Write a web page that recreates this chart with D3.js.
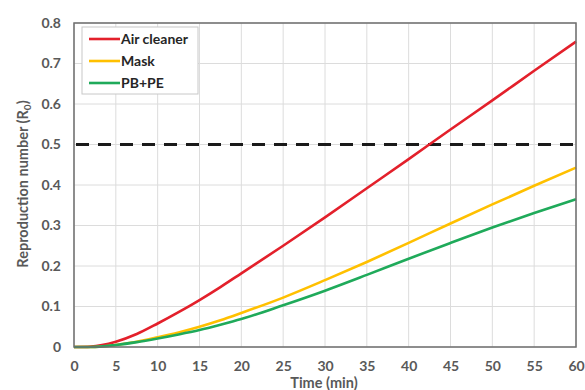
<!DOCTYPE html>
<html>
<head>
<meta charset="utf-8">
<script src="https://cdn.jsdelivr.net/npm/d3@7"></script>
<style>
  html, body { margin: 0; padding: 0; background: #fff; }
  svg { display: block; }
</style>
</head>
<body>
<svg id="chart" width="585" height="390"></svg>
<script>
const time = [0, 2, 5, 7.5, 10, 12.5, 15, 17.5, 20, 25, 30, 35, 40, 45, 50, 55, 60];
const airCleaner = [0, 0.001, 0.013, 0.032, 0.058, 0.086, 0.116, 0.148, 0.182, 0.25, 0.32, 0.392, 0.464, 0.537, 0.609, 0.682, 0.754];
const mask = [0, 0, 0.005, 0.013, 0.024, 0.036, 0.05, 0.066, 0.084, 0.122, 0.165, 0.21, 0.257, 0.305, 0.352, 0.398, 0.443];
const pbpe = [0, 0, 0.005, 0.012, 0.021, 0.031, 0.042, 0.055, 0.069, 0.103, 0.139, 0.178, 0.218, 0.257, 0.295, 0.331, 0.365];
const seriesNames = ["Air cleaner", "Mask", "PB+PE"];
const seriesColors = ["#e3202b", "#ffc000", "#1faa5a"];
const xTicks = [0, 5, 10, 15, 20, 25, 30, 35, 40, 45, 50, 55, 60];
const yTicks = [0, 0.1, 0.2, 0.3, 0.4, 0.5, 0.6, 0.7, 0.8];
const threshold = 0.5;

const seriesValues = [airCleaner, mask, pbpe];

const svg = d3.select("#chart");
const mLeft = 74, mRight = 576, mTop = 23, mBottom = 347;
const x = d3.scaleLinear().domain([0, 60]).range([mLeft, mRight]);
const y = d3.scaleLinear().domain([0, 0.8]).range([mBottom, mTop]);
const font = "Lato, 'Open Sans', sans-serif";

// grid
const grid = svg.append("g");
grid.selectAll(".vg").data(xTicks).join("line")
  .attr("x1", d => x(d)).attr("x2", d => x(d))
  .attr("y1", mTop).attr("y2", mBottom)
  .attr("stroke", "#dcdcdc").attr("stroke-width", 1);
grid.selectAll(".hg").data(yTicks).join("line")
  .attr("x1", mLeft).attr("x2", mRight)
  .attr("y1", d => y(d)).attr("y2", d => y(d))
  .attr("stroke", "#dcdcdc").attr("stroke-width", 1);

// axes (labels only)
const xAxis = d3.axisBottom(x).tickValues(xTicks).tickSize(0).tickPadding(14).tickFormat(d3.format("d"));
const gx = svg.append("g").attr("transform", `translate(0,${mBottom})`).call(xAxis);
gx.select(".domain").remove();
gx.selectAll("text").attr("font-family", font).attr("font-size", 14).attr("font-weight", "bold").attr("fill", "#595959");

const yAxis = d3.axisLeft(y).tickValues(yTicks).tickSize(0).tickPadding(13).tickFormat(d => d === 0 ? "0" : d3.format(".1f")(d));
const gy = svg.append("g").attr("transform", `translate(${mLeft},0)`).call(yAxis);
gy.select(".domain").remove();
gy.selectAll("text").attr("font-family", font).attr("font-size", 14).attr("font-weight", "bold").attr("fill", "#595959");

// threshold
svg.append("line")
  .attr("x1", x(0) + 2).attr("x2", x(60))
  .attr("y1", y(threshold)).attr("y2", y(threshold))
  .attr("stroke", "#1a1a1a").attr("stroke-width", 3)
  .attr("stroke-dasharray", "13,9");

// lines
const line = d3.line().x((d, i) => x(time[i])).y(d => y(d)).curve(d3.curveMonotoneX);
seriesValues.forEach((vals, k) => {
  svg.append("path").datum(vals)
    .attr("d", line)
    .attr("fill", "none")
    .attr("stroke", seriesColors[k])
    .attr("stroke-width", 2.6);
});

// plot border
svg.append("rect")
  .attr("x", mLeft).attr("y", mTop)
  .attr("width", mRight - mLeft).attr("height", mBottom - mTop)
  .attr("fill", "none").attr("stroke", "#6e6e6e").attr("stroke-width", 1.5);

// legend
const lg = svg.append("g");
lg.append("rect").attr("x", 82).attr("y", 27).attr("width", 116).attr("height", 67)
  .attr("fill", "#fff").attr("stroke", "#c8c8c8").attr("stroke-width", 1);
seriesNames.forEach((name, k) => {
  const yy = 39 + k * 22;
  lg.append("line").attr("x1", 89).attr("x2", 120).attr("y1", yy).attr("y2", yy)
    .attr("stroke", seriesColors[k]).attr("stroke-width", 2.6);
  lg.append("text").attr("x", 121).attr("y", yy).attr("dy", "0.35em")
    .attr("font-family", font).attr("font-size", 14).attr("font-weight", "bold")
    .attr("fill", "#262626").text(name);
});

// axis titles
svg.append("text").attr("x", (mLeft + mRight) / 2 - 1).attr("y", 388)
  .attr("text-anchor", "middle").attr("font-family", font).attr("font-size", 14.5)
  .attr("font-weight", "bold").attr("fill", "#595959").text("Time (min)");

const yt = svg.append("text")
  .attr("transform", `translate(28,184) rotate(-90)`)
  .attr("text-anchor", "middle").attr("font-family", font).attr("font-size", 14.5)
  .attr("font-weight", "bold").attr("fill", "#595959");
yt.append("tspan").text("Reproduction number (R");
yt.append("tspan").attr("font-size", 10).attr("dy", 3).text("0");
yt.append("tspan").attr("dy", -3).text(")");
</script>
</body>
</html>
